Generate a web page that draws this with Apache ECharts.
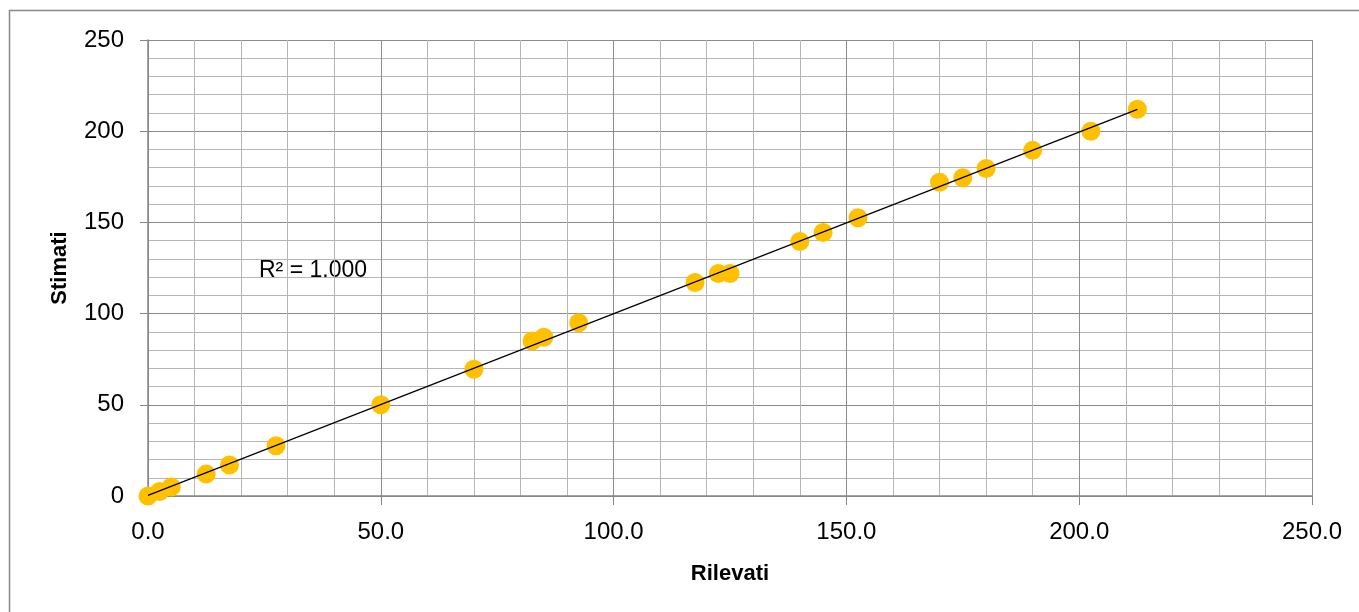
<!DOCTYPE html>
<html>
<head>
<meta charset="utf-8">
<script src="https://cdn.jsdelivr.net/npm/echarts@6/dist/echarts.min.js"></script>
<style>
html,body{margin:0;padding:0;background:#fff;}
#chart{width:1359px;height:612px;}
</style>
</head>
<body>
<div id="chart"></div>
<script>
// Data
var rilevati = [0, 2.5, 5, 12.5, 17.5, 27.5, 50, 70, 82.5, 85, 92.5, 117.5, 122.5, 125, 140, 145, 152.5, 170, 175, 180, 190, 202.5, 212.5];
var stimati  = [0, 2.5, 5, 12, 17, 27.5, 50, 69.5, 85, 87, 95, 117, 122, 122, 139.5, 144.5, 152.5, 172, 174.5, 179.5, 189.5, 200, 212];
var xTicks = [0, 50, 100, 150, 200, 250];
var yTicks = [0, 50, 100, 150, 200, 250];
var r2Label = 'R² = 1.000';
var xTitle = 'Rilevati';
var yTitle = 'Stimati';

var points = rilevati.map(function (x, i) { return [x, stimati[i]]; });

// least-squares trendline over the data
var n = rilevati.length, sx = 0, sy = 0, sxx = 0, sxy = 0;
for (var i = 0; i < n; i++) { sx += rilevati[i]; sy += stimati[i]; sxx += rilevati[i] * rilevati[i]; sxy += rilevati[i] * stimati[i]; }
var slope = (n * sxy - sx * sy) / (n * sxx - sx * sx);
var icpt = (sy - slope * sx) / n;
var xMin = Math.min.apply(null, rilevati), xMax = Math.max.apply(null, rilevati);
var trend = [[xMin, icpt + slope * xMin], [xMax, icpt + slope * xMax]];

var FONT = '"Liberation Sans", Arial, sans-serif';
var chart = echarts.init(document.getElementById('chart'), null, { renderer: 'canvas' });
chart.setOption({
  animation: false,
  backgroundColor: '#fff',
  grid: { left: 148, top: 40, right: 47, bottom: 116, containLabel: false },
  xAxis: {
    type: 'value', min: xTicks[0], max: xTicks[xTicks.length - 1], interval: 50,
    name: xTitle, nameLocation: 'middle', nameGap: 67,
    nameTextStyle: { fontFamily: FONT, fontSize: 22, fontWeight: 'bold', color: '#000' },
    axisLine: { show: true, onZero: false, lineStyle: { color: '#868686', width: 1.5 } },
    axisTick: { show: true, length: 9, lineStyle: { color: '#868686', width: 1 } },
    axisLabel: { margin: 24, fontFamily: FONT, fontSize: 24, color: '#000', formatter: function (v) { return v.toFixed(1); } },
    splitLine: { show: true, lineStyle: { color: '#8c8c8c', width: 1 } },
    minorTick: { show: false, splitNumber: 5 },
    minorSplitLine: { show: true, lineStyle: { color: '#b6b6b6', width: 1 } }
  },
  yAxis: {
    type: 'value', min: yTicks[0], max: yTicks[yTicks.length - 1], interval: 50,
    name: yTitle, nameLocation: 'middle', nameGap: 77, nameRotate: 90,
    nameTextStyle: { fontFamily: FONT, fontSize: 22, fontWeight: 'bold', color: '#000' },
    axisLine: { show: true, onZero: false, lineStyle: { color: '#868686', width: 1.5 } },
    axisTick: { show: true, length: 8, lineStyle: { color: '#868686', width: 1 } },
    axisLabel: { margin: 24, fontFamily: FONT, fontSize: 24, color: '#000', formatter: function (v) { return String(v); } },
    splitLine: { show: true, lineStyle: { color: '#8c8c8c', width: 1 } },
    minorTick: { show: false, splitNumber: 5 },
    minorSplitLine: { show: true, lineStyle: { color: '#b6b6b6', width: 1 } }
  },
  graphic: [
    { type: 'rect', z: -10, shape: { x: 9.5, y: 10.5, width: 1400, height: 700 }, style: { fill: 'none', stroke: '#888', lineWidth: 1.5 } },
    { type: 'text', left: 259, top: 259, style: { text: r2Label, font: '23px ' + FONT, fill: '#000' } }
  ],
  series: [
    { type: 'scatter', data: points, symbol: 'circle', symbolSize: 19, itemStyle: { color: '#FFC000', opacity: 1 }, z: 2 },
    { type: 'line', data: trend, symbol: 'none', lineStyle: { color: '#000', width: 1.2 }, z: 3 }
  ]
});
</script>
</body>
</html>
